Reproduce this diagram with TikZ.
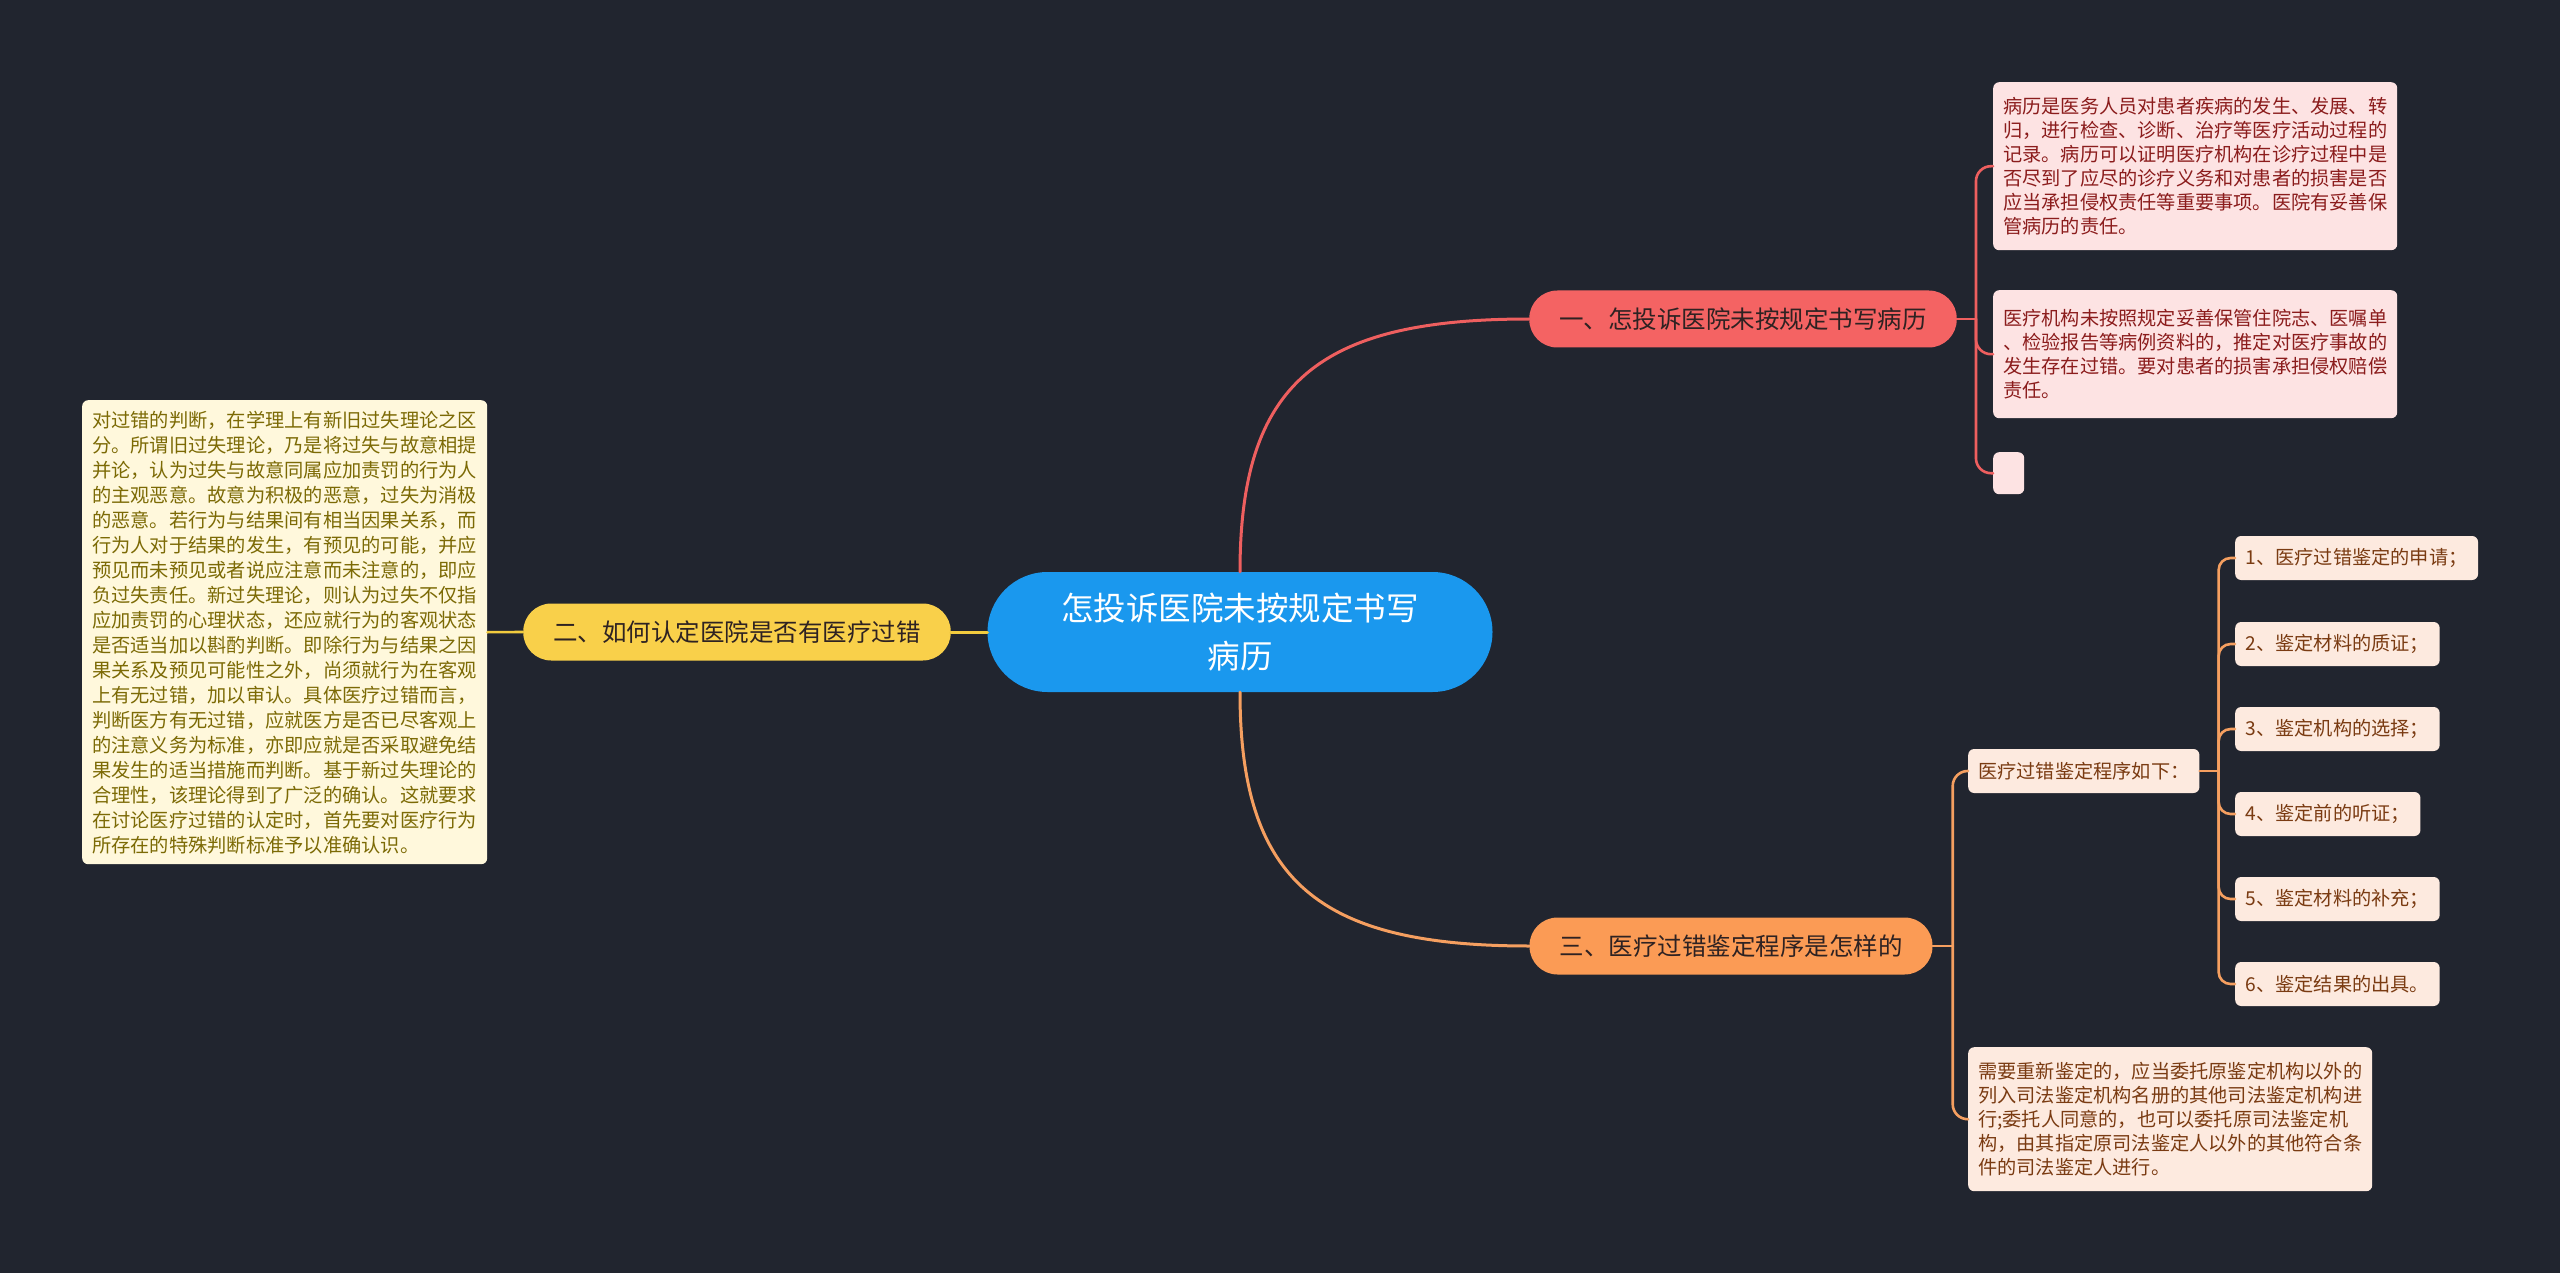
\documentclass[tikz,border=0pt]{standalone}
\usepackage{fontspec}
\setmainfont{Noto Sans CJK SC}
\definecolor{bg}{HTML}{21252F}
\definecolor{cblue}{HTML}{1A98EE}
\definecolor{bred}{HTML}{F46363}
\definecolor{byel}{HTML}{F9D04A}
\definecolor{bora}{HTML}{FB9B55}
\definecolor{btext}{HTML}{2E2222}
\definecolor{rfill}{HTML}{FDE3E3}
\definecolor{rtext}{HTML}{8B1C1C}
\definecolor{yfill}{HTML}{FFF8DC}
\definecolor{ytext}{HTML}{7C6A05}
\definecolor{ofill}{HTML}{FDEADF}
\definecolor{otext}{HTML}{7A3B12}
\definecolor{lred}{HTML}{EE5F5F}
\definecolor{lyel}{HTML}{F2CB3E}
\definecolor{lora}{HTML}{F59F60}
\begin{document}
\begin{tikzpicture}[x=1pt,y=-1pt,
  every node/.style={inner sep=0pt},
  centernode/.style={fill=cblue, text=white, rounded corners=60pt, minimum width=505pt, minimum height=120pt, align=center, font=\fontsize{32.5}{48}\selectfont},
  branch/.style={rounded corners=28pt, minimum height=57pt, inner xsep=30pt, font=\fontsize{24.5}{30}\selectfont, text=btext},
  leafbox/.style={rounded corners=6pt, inner xsep=10pt, align=left, anchor=north west},
  rleaf/.style={leafbox, fill=rfill, text=rtext, font=\fontsize{19.2}{24}\selectfont},
  yleaf/.style={leafbox, fill=yfill, text=ytext, font=\fontsize{19.25}{25}\selectfont},
  oleaf/.style={leafbox, fill=ofill, text=otext, font=\fontsize{19.2}{24.2}\selectfont},
  oitem/.style={rounded corners=6pt, inner xsep=10.5pt, minimum height=44pt, anchor=west, fill=ofill, text=otext, font=\fontsize{19.2}{24}\selectfont},
  mainline/.style={line width=3pt, line cap=round},
  subline/.style={line width=2.6pt, line cap=round}]
\fill[bg] (0,0) rectangle (2560,1273);
\useasboundingbox (0,0) rectangle (2560,1273);

% nodes
\node[centernode] (c) at (1240,632) {怎投诉医院未按规定书写\\病历};
\node[branch, fill=bred] (b1) at (1743,319) {一、怎投诉医院未按规定书写病历};
\node[branch, fill=byel] (b2) at (737,632) {二、如何认定医院是否有医疗过错};
\node[branch, fill=bora] (b3) at (1731,946) {三、医疗过错鉴定程序是怎样的};

\node[rleaf, minimum width=404pt, minimum height=168pt] (r1) at (1993,82) {病历是医务人员对患者疾病的发生、发展、转\\归，进行检查、诊断、治疗等医疗活动过程的\\记录。病历可以证明医疗机构在诊疗过程中是\\否尽到了应尽的诊疗义务和对患者的损害是否\\应当承担侵权责任等重要事项。医院有妥善保\\管病历的责任。};
\node[rleaf, minimum width=404pt, minimum height=128pt] (r2) at (1993,290) {医疗机构未按照规定妥善保管住院志、医嘱单\\、检验报告等病例资料的，推定对医疗事故的\\发生存在过错。要对患者的损害承担侵权赔偿\\责任。};
\node[rleaf, minimum width=31pt, minimum height=42pt, inner xsep=0pt] (r3) at (1993,452) {};

\node[yleaf, minimum width=405pt, minimum height=464pt] (y1) at (82,400) {对过错的判断，在学理上有新旧过失理论之区\\分。所谓旧过失理论，乃是将过失与故意相提\\并论，认为过失与故意同属应加责罚的行为人\\的主观恶意。故意为积极的恶意，过失为消极\\的恶意。若行为与结果间有相当因果关系，而\\行为人对于结果的发生，有预见的可能，并应\\预见而未预见或者说应注意而未注意的，即应\\负过失责任。新过失理论，则认为过失不仅指\\应加责罚的心理状态，还应就行为的客观状态\\是否适当加以斟酌判断。即除行为与结果之因\\果关系及预见可能性之外，尚须就行为在客观\\上有无过错，加以审认。具体医疗过错而言，\\判断医方有无过错，应就医方是否已尽客观上\\的注意义务为标准，亦即应就是否采取避免结\\果发生的适当措施而判断。基于新过失理论的\\合理性，该理论得到了广泛的确认。这就要求\\在讨论医疗过错的认定时，首先要对医疗行为\\所存在的特殊判断标准予以准确认识。};

\node[oitem, inner xsep=10pt] (o1) at (1968,771) {医疗过错鉴定程序如下：};
\node[oleaf, minimum width=404pt, minimum height=144pt] (o2) at (1968,1047) {需要重新鉴定的，应当委托原鉴定机构以外的\\列入司法鉴定机构名册的其他司法鉴定机构进\\行;委托人同意的，也可以委托原司法鉴定机\\构，由其指定原司法鉴定人以外的其他符合条\\件的司法鉴定人进行。};

\node[oitem] (i1) at (2235,558) {1、医疗过错鉴定的申请；};
\node[oitem] (i2) at (2235,644) {2、鉴定材料的质证；};
\node[oitem] (i3) at (2235,729) {3、鉴定机构的选择；};
\node[oitem] (i4) at (2235,814) {4、鉴定前的听证；};
\node[oitem] (i5) at (2235,899) {5、鉴定材料的补充；};
\node[oitem] (i6) at (2235,984) {6、鉴定结果的出具。};

% connectors
\draw[mainline, lred] (c.north) .. controls +(0,-190) and +(-210,0) .. (b1.west);
\draw[mainline, lora] (c.south) .. controls +(0,190) and +(-210,0) .. (b3.west);
\draw[mainline, lyel] (c.west) -- (b2.east);

\draw[subline, lyel] (b2.west) -- (y1.east);

\draw[subline, lred] (b1.east) -- ++(19,0) coordinate (j1);
\draw[subline, lred, rounded corners=15pt] (j1) |- (r1.west);
\draw[subline, lred, rounded corners=15pt] (j1) |- (r2.west);
\draw[subline, lred, rounded corners=15pt] (j1) |- (r3.west);

\draw[subline, lora] (b3.east) -- ++(20,0) coordinate (j3);
\draw[subline, lora, rounded corners=15pt] (j3) |- (o1.west);
\draw[subline, lora, rounded corners=15pt] (j3) |- (o2.west);

\draw[subline, lora] (o1.east) -- ++(19,0) coordinate (j4);
\foreach \n in {i1,i2,i3,i4,i5,i6}
  \draw[subline, lora, rounded corners=12pt] (j4) |- (\n.west);
\end{tikzpicture}
\end{document}
